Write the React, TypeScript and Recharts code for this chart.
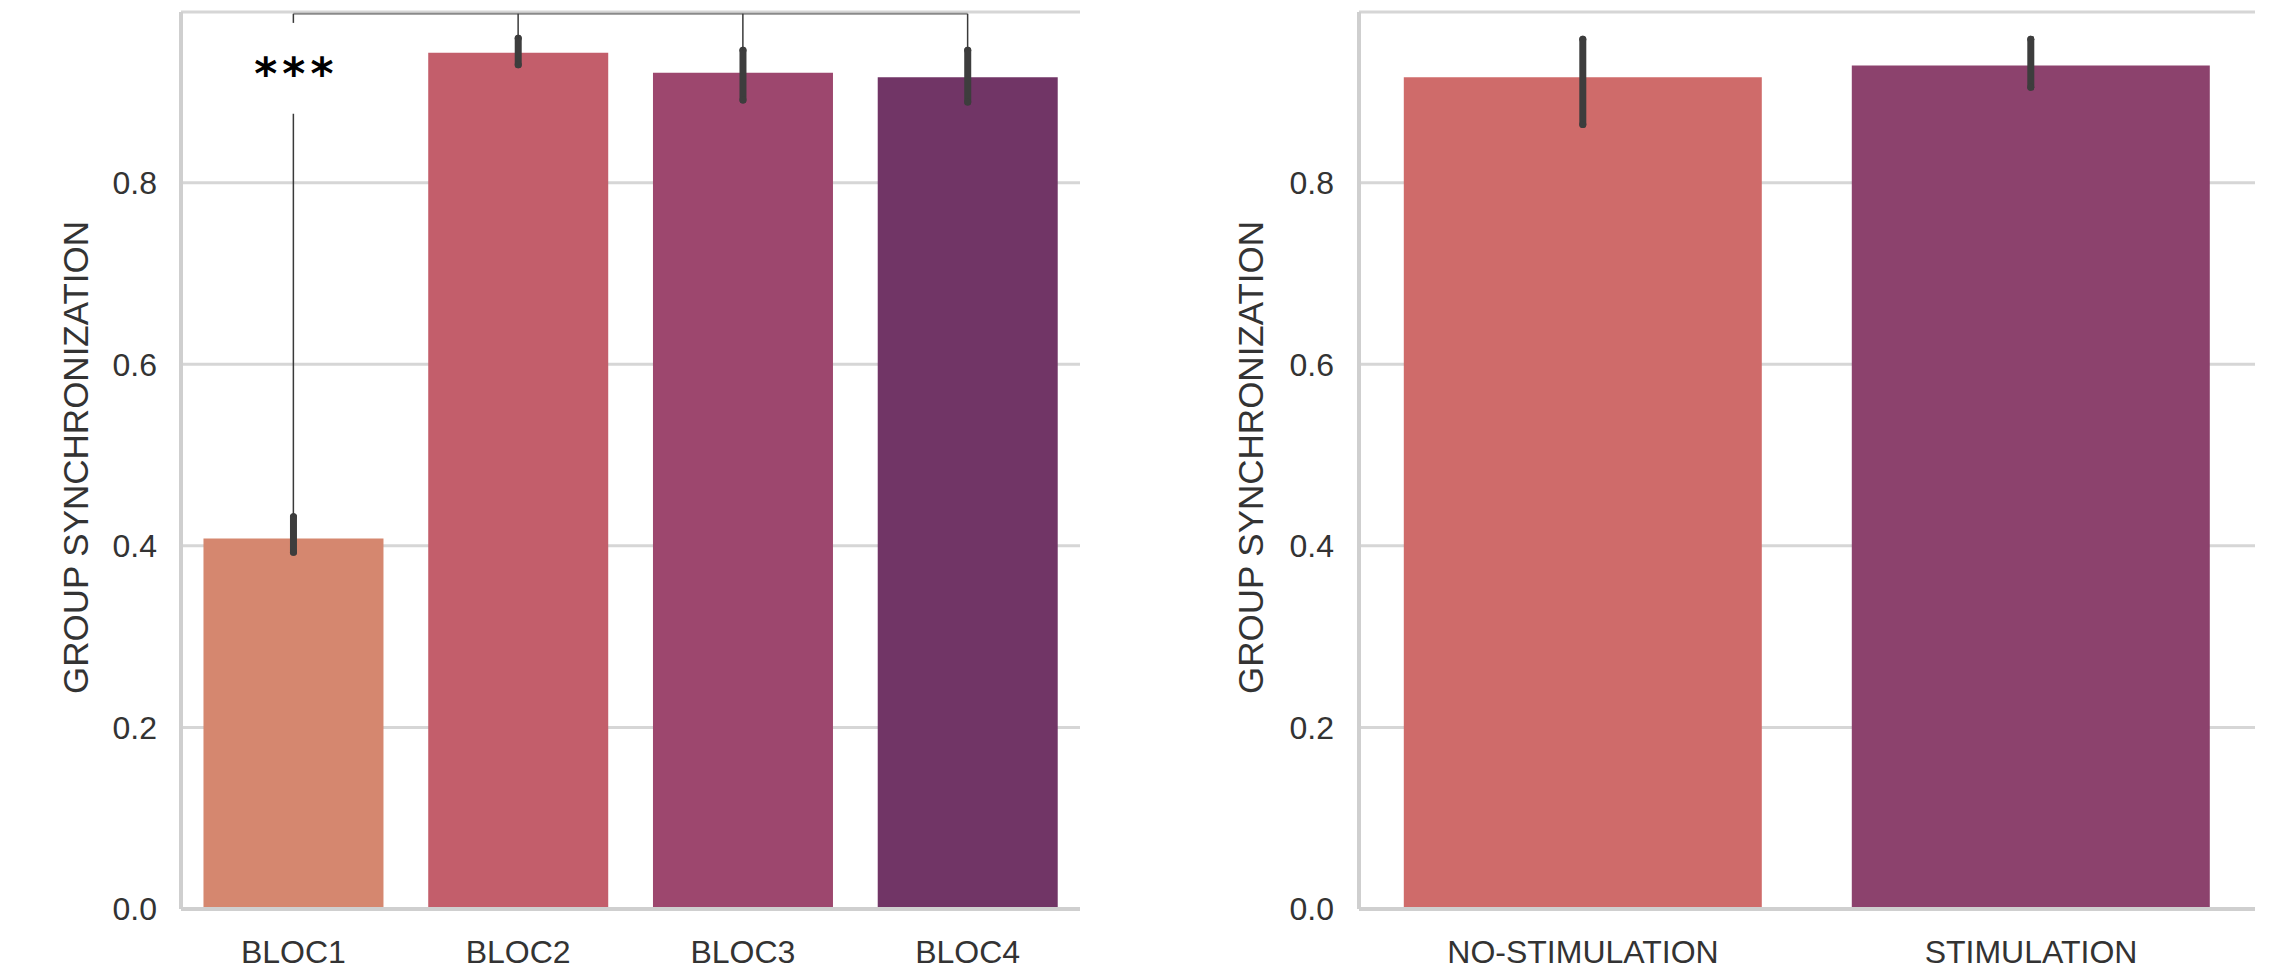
import React from 'react';
import {
  BarChart,
  Bar,
  XAxis,
  YAxis,
  CartesianGrid,
  ErrorBar,
  Cell,
  ReferenceLine,
  ReferenceArea,
} from 'recharts';

// ---- data: left panel (blocks) ----
const blocCategories = ['BLOC1', 'BLOC2', 'BLOC3', 'BLOC4'];
const blocMeans = [0.408, 0.943, 0.921, 0.916];
const blocCiLow = [0.393, 0.930, 0.891, 0.889];
const blocCiHigh = [0.432, 0.959, 0.946, 0.946];
const blocColors = ['#D5876F', '#C35E6B', '#9D476E', '#713566'];

// ---- data: right panel (stimulation) ----
const stimCategories = ['NO-STIMULATION', 'STIMULATION'];
const stimMeans = [0.916, 0.929];
const stimCiLow = [0.864, 0.905];
const stimCiHigh = [0.958, 0.958];
const stimColors = ['#CF6B6A', '#8C426D'];

// ---- axis / annotation values ----
const yTicks = [0, 0.2, 0.4, 0.6, 0.8];
const yMax = 0.988;
const yTitle = 'GROUP SYNCHRONIZATION';
const bracketLevel = 0.986;
const annotationText = '***';
const maskLow = 0.876;
const maskHigh = 0.976;

const blocData = blocCategories.map((name, i) => ({
  name,
  mean: blocMeans[i],
  err: [blocMeans[i] - blocCiLow[i], blocCiHigh[i] - blocMeans[i]],
}));
const stimData = stimCategories.map((name, i) => ({
  name,
  mean: stimMeans[i],
  err: [stimMeans[i] - stimCiLow[i], stimCiHigh[i] - stimMeans[i]],
}));

const FONT = '"Liberation Sans", Arial, sans-serif';
const TEXT = '#333333';
const GRID = '#d6d6d6';
const SPINE = '#cfcfcf';

const tickStyle = { fontFamily: FONT, fontSize: 32, fill: TEXT };

const makeYTitle = (cxOffset: number) => (props: any) => {
  const vb = props.viewBox || { x: 0, y: 0, width: 0, height: 0 };
  const cx = vb.x + cxOffset;
  const cy = vb.y + vb.height / 2 - 3;
  return (
    <text
      x={cx}
      y={cy}
      transform={`rotate(-90, ${cx}, ${cy})`}
      textAnchor="middle"
      dominantBaseline="central"
      fontFamily={FONT}
      fontSize={35}
      fill={TEXT}
    >
      {yTitle}
    </text>
  );
};

const StarsLabel = (props: any) => {
  const vb = props.viewBox || { x: 0, y: 0, width: 0, height: 0 };
  const cx = vb.x + vb.width / 2;
  const cy = vb.y + vb.height / 2;
  return (
    <text
      x={cx + 3}
      y={cy}
      dy={21}
      textAnchor="middle"
      fontFamily='"DejaVu Sans", sans-serif'
      fontWeight="bold"
      fontSize={44}
      letterSpacing={5}
      fill="#000"
    >
      {annotationText}
    </text>
  );
};

const annLine = { stroke: '#3a3a3a', strokeWidth: 1.5 };

export default function App() {
  return (
    <div style={{ position: 'absolute', left: 0, top: 0, width: 2274, height: 975, background: '#fff' }}>
      {/* Left panel */}
      <div style={{ position: 'absolute', left: 0, top: 0 }}>
        <BarChart
          width={1100}
          height={975}
          data={blocData}
          margin={{ top: 12, right: 20, bottom: 0, left: 0 }}
          barCategoryGap="10%"
        >
          <CartesianGrid horizontal vertical={false} stroke={GRID} strokeWidth={3} />
          <XAxis
            dataKey="name"
            height={66}
            tickLine={false}
            tickSize={0}
            tickMargin={31}
            axisLine={{ stroke: SPINE, strokeWidth: 4 }}
            tick={tickStyle}
            interval={0}
          />
          <YAxis
            type="number"
            domain={[0, yMax]}
            ticks={yTicks}
            width={181}
            tickLine={false}
            tickSize={0}
            tickMargin={24}
            axisLine={{ stroke: SPINE, strokeWidth: 4 }}
            tick={tickStyle}
            tickFormatter={(v: number) => v.toFixed(1)}
            allowDataOverflow
            label={{ content: makeYTitle(75) } as any}
          />
          <Bar dataKey="mean" isAnimationActive={false}>
            {blocData.map((d, i) => (
              <Cell key={d.name} fill={blocColors[i]} />
            ))}
            <ErrorBar
              dataKey="err"
              width={0}
              strokeWidth={7}
              stroke="#3d3d3d"
              direction="y"
              strokeLinecap="round"
              isAnimationActive={false}
            />
          </Bar>
          {/* significance bracket */}
          <ReferenceLine
            ifOverflow="visible"
            segment={[
              { x: blocCategories[0], y: bracketLevel },
              { x: blocCategories[3], y: bracketLevel },
            ]}
            stroke="#8a8a8a"
            strokeWidth={2}
          />
          {blocCategories.slice(1).map((c, j) => (
            <ReferenceLine
              key={c}
              ifOverflow="visible"
              segment={[
                { x: c, y: blocCiHigh[j + 1] },
                { x: c, y: bracketLevel },
              ]}
              {...annLine}
            />
          ))}
          <ReferenceLine
            ifOverflow="visible"
            segment={[
              { x: blocCategories[0], y: maskHigh },
              { x: blocCategories[0], y: bracketLevel },
            ]}
            {...annLine}
          />
          <ReferenceLine
            ifOverflow="visible"
            segment={[
              { x: blocCategories[0], y: blocCiHigh[0] },
              { x: blocCategories[0], y: maskLow },
            ]}
            {...annLine}
          />
          <ReferenceArea
            ifOverflow="visible"
            x1={blocCategories[0]}
            x2={blocCategories[0]}
            y1={maskLow}
            y2={maskHigh}
            fill="#ffffff"
            fillOpacity={0}
            strokeOpacity={0}
            label={{ content: StarsLabel } as any}
          />
        </BarChart>
      </div>

      {/* Right panel */}
      <div style={{ position: 'absolute', left: 1174, top: 0 }}>
        <BarChart
          width={1100}
          height={975}
          data={stimData}
          margin={{ top: 12, right: 19, bottom: 0, left: 0 }}
          barCategoryGap="10%"
        >
          <CartesianGrid horizontal vertical={false} stroke={GRID} strokeWidth={3} />
          <XAxis
            dataKey="name"
            height={66}
            tickLine={false}
            tickSize={0}
            tickMargin={31}
            axisLine={{ stroke: SPINE, strokeWidth: 4 }}
            tick={tickStyle}
            interval={0}
          />
          <YAxis
            type="number"
            domain={[0, yMax]}
            ticks={yTicks}
            width={185}
            tickLine={false}
            tickSize={0}
            tickMargin={25}
            axisLine={{ stroke: SPINE, strokeWidth: 4 }}
            tick={tickStyle}
            tickFormatter={(v: number) => v.toFixed(1)}
            allowDataOverflow
            label={{ content: makeYTitle(76) } as any}
          />
          <Bar dataKey="mean" isAnimationActive={false}>
            {stimData.map((d, i) => (
              <Cell key={d.name} fill={stimColors[i]} />
            ))}
            <ErrorBar
              dataKey="err"
              width={0}
              strokeWidth={7}
              stroke="#3d3d3d"
              direction="y"
              strokeLinecap="round"
              isAnimationActive={false}
            />
          </Bar>
        </BarChart>
      </div>
    </div>
  );
}
